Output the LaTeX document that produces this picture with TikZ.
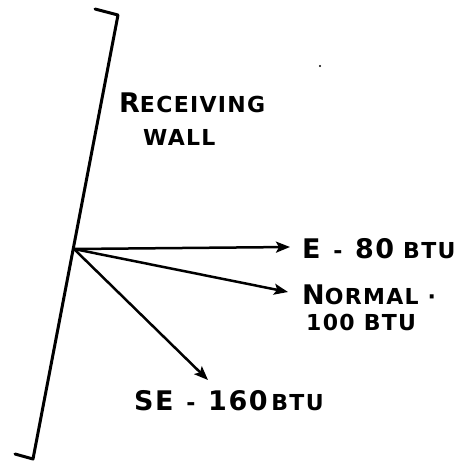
\documentclass[tikz,border=0pt]{standalone}
\usepackage{fontspec}
\setmainfont{DejaVu Sans}
\usetikzlibrary{arrows.meta}
\tikzset{
  wallline/.style={line width=3pt, line cap=round, line join=round},
  ray/.style={line width=2.5pt, line cap=round, -{Stealth[length=14pt,width=11pt,inset=3pt]}},
  lab/.style={font=\bfseries\fontsize{22}{24}\selectfont\addfontfeature{LetterSpace=6}, inner sep=0pt, anchor=west},
}
\newcommand{\capbig}[1]{{\fontsize{27}{27}\selectfont #1}}
\begin{document}
\begin{tikzpicture}[x=1pt,y=-1pt]
\useasboundingbox (0,0) rectangle (460,464);
% wall
\coordinate (wt0) at (95,9);
\coordinate (wt) at (118,15);
\coordinate (wb) at (33,459);
\coordinate (wb0) at (15,454);
\draw[wallline] (wt0) -- (wt) -- (wb) -- (wb0);
% origin
\coordinate (O) at (74,249);
\coordinate (eE) at (290,247);
\coordinate (eN) at (288,292);
\coordinate (eS) at (208,380);
\draw[ray] (O) -- (eE);
\draw[ray] (O) -- (eN);
\draw[ray] (O) -- (eS);
% labels
\node[lab] (rw1) at (119,103) {\capbig{R}ECEIVING};
\node[lab] (rw2) at (143,137) {WALL};
\node[lab] (le) at (302,249) {\capbig{E} \,-\, \capbig{80} BTU};
\node[lab] (ln1) at (302,295) {\capbig{N}ORMAL ·};
\node[lab] (ln2) at (306,322) {100 BTU};
\node[lab] (ls) at (134,401) {\capbig{SE} \,-\, \capbig{160}\,BTU};
% stray dot
\fill (320,66) circle (1.1pt);
\end{tikzpicture}
\end{document}
